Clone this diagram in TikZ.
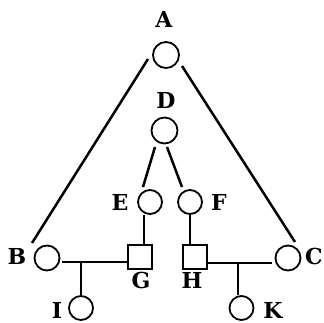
\documentclass[tikz,border=0pt]{standalone}
\usepackage{fontspec}
\setmainfont{DejaVu Serif}
\usetikzlibrary{calc}
\begin{document}
\begin{tikzpicture}[x=1pt,y=-1pt,
  person/.style={circle,draw,line width=1.8pt,inner sep=0pt,minimum size=25pt},
  male/.style={rectangle,draw,line width=2.5pt,inner sep=0pt,minimum size=24pt},
  lbl/.style={font=\fontsize{22}{22}\selectfont\bfseries,inner sep=0pt},
  link/.style={line width=2.5pt},
  thin/.style={line width=1.7pt}]
\useasboundingbox (0,0) rectangle (324,322);
% persons
\node[person,minimum size=26pt] (A) at (166,55) {};
\node[person,minimum size=26pt] (D) at (164.5,130.5) {};
\node[person,minimum size=24pt] (E) at (150,202) {};
\node[person,minimum size=24pt] (F) at (190,202) {};
\node[person] (B) at (47,258) {};
\node[person] (C) at (288,258) {};
\node[male] (G) at (140,257) {};
\node[male] (H) at (195,257) {};
\node[person,minimum size=24pt] (I) at (81,308) {};
\node[person,minimum size=24pt] (K) at (241.5,308) {};
% labels
\node[lbl] (lA) at (164,19) {A};
\node[lbl] (lD) at (166,100) {D};
\node[lbl] (lE) at (120,202) {E};
\node[lbl] (lF) at (219,202) {F};
\node[lbl] (lB) at (17,256) {B};
\node[lbl] (lC) at (314,256) {C};
\node[lbl] (lG) at (141,280) {G};
\node[lbl] (lH) at (192,280) {H};
\node[lbl] (lI) at (57,310) {I};
\node[lbl] (lK) at (273,310) {K};
% connectors
\coordinate (ab1) at (148,59);
\coordinate (ab2) at (32,243);
\coordinate (ac1) at (182,66);
\coordinate (ac2) at (295,242);
\draw[link] (ab1) -- (ab2);
\draw[link] (ac1) -- (ac2);
\draw[link] ($(D)+(-9.5,16.5)$) -- ($(E)+(-7,-15)$);
\draw[link] ($(D)+(2.5,16.5)$) -- ($(F)+(-8,-15)$);
\draw[thin] ($(E.south)+(-6,0)$) -- ($(G.north)+(4,0)$);
\draw[thin] (F.south) -- ($(H.north)+(-5,0)$);
\coordinate (jI) at (81,262);
\coordinate (jK) at (238,263);
\draw[thin] ($(B.east)+(2,4)$) -- ($(G.west)+(0,5)$);
\draw[thin] ($(H.east)+(0,6)$) -- ($(C.west)+(-3,5)$);
\draw[thin] (jI) -- (I.north);
\draw[thin] (jK) -- (jK |- K.north);
\end{tikzpicture}
\end{document}
